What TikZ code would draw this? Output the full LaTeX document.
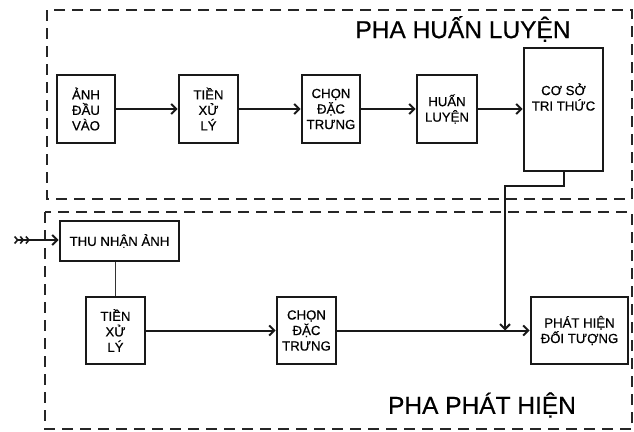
\documentclass[tikz,border=0pt]{standalone}
\usepackage{fontspec}
\setmainfont{Liberation Sans}[FakeBold=0.5]
\usetikzlibrary{arrows.meta}
\begin{document}
\begin{tikzpicture}[x=1pt,y=-1pt,
  box/.style={draw=black!90,line width=2.8pt,inner sep=0pt,align=center,
    font=\fontsize{13.2}{15.5}\selectfont},
  phase/.style={draw=black!85,line width=2.8pt,dash pattern=on 11pt off 7pt},
  arr/.style={draw=black!90,line width=2pt,-{Straight Barb[length=5pt,width=10pt,line width=2pt]}},
  title/.style={font=\fontsize{24.5}{27}\selectfont,inner sep=0pt}]
\useasboundingbox (0,0) rectangle (634,431);
% phases
\draw[phase] (47,10) rectangle (632,199);
\draw[phase] (45,212) rectangle (632,429);
\node[title] (t1) at (463,29) {PHA HUẤN LUYỆN};
\node[title] (t2) at (482,405) {PHA PHÁT HIỆN};
% training row
\node[box,minimum width=58pt,minimum height=68pt] (a1) at (86,109) {ẢNH\\ĐẦU\\VÀO};
\node[box,minimum width=59pt,minimum height=68pt] (a2) at (208.5,109) {TIỀN\\XỬ\\LÝ};
\node[box,minimum width=58pt,minimum height=68pt] (a3) at (331,109) {CHỌN\\ĐẶC\\TRƯNG};
\node[box,minimum width=60pt,minimum height=68pt] (a4) at (447,109) {HUẤN\\LUYỆN};
\node[box,minimum width=79pt,minimum height=123pt] (cs) at (563.5,109.5) {};
\node[box,draw=none] (csT) at (563.5,97) {CƠ SỞ\\TRI THỨC};
\draw[arr] (a1) -- (a2);
\draw[arr] (a2) -- (a3);
\draw[arr] (a3) -- (a4);
\draw[arr] (a4) -- (a4 -| cs.west);
% detection row
\node[box,minimum width=119pt,minimum height=40pt] (b1) at (119.5,241) {THU NHẬN ẢNH};
\node[box,minimum width=59pt,minimum height=67pt] (b2) at (115.5,330.5) {TIỀN\\XỬ\\LÝ};
\node[box,minimum width=59pt,minimum height=67pt] (b3) at (306.5,330.5) {CHỌN\\ĐẶC\\TRƯNG};
\node[box,minimum width=97pt,minimum height=67pt] (b4) at (579.5,330.5) {PHÁT HIỆN\\ĐỐI TƯỢNG};
\coordinate (in) at (13,240);
\draw[draw=black!90,line width=2pt,
  {Straight Barb[reversed,length=3pt,width=7pt,line width=1.6pt,sep=0.8pt]Straight Barb[reversed,length=3pt,width=7pt,line width=1.6pt,sep=0.8pt]Straight Barb[reversed,length=3pt,width=7pt,line width=1.6pt,sep=0.8pt]}-{Straight Barb[length=5pt,width=10pt,line width=2pt]}]
  (in) -- (in -| b1.west);
\draw[draw=black!80,line width=1pt] (b2.north) -- (b2.north |- b1.south);
\draw[arr] (b2) -- (b3);
\draw[arr] (b3) -- (b4);
\coordinate (bend) at (505,186);
\coordinate (join) at (505,330.5);
\draw[arr] (cs.south) |- (bend) -- (join);
\end{tikzpicture}
\end{document}
